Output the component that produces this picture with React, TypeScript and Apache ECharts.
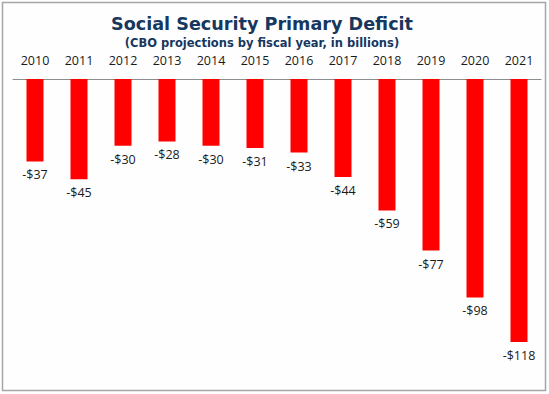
import React, { useEffect, useRef } from "react";
import * as echarts from "echarts";

const years = ["2010", "2011", "2012", "2013", "2014", "2015", "2016", "2017", "2018", "2019", "2020", "2021"];
const deficits = [-37, -45, -30, -28, -30, -31, -33, -44, -59, -77, -98, -118];

export default function App() {
  const ref = useRef<HTMLDivElement>(null);
  useEffect(() => {
    if (!ref.current) return;
    const chart = echarts.init(ref.current, undefined, { renderer: "svg" });
    chart.setOption({
      animation: false,
      backgroundColor: "#fefefe",
      graphic: [
        {
          type: "rect",
          shape: { x: 2.5, y: 2.5, width: 543, height: 388 },
          style: { fill: "none", stroke: "#a6a6a6", lineWidth: 1.5 },
        },
        {
          type: "text",
          x: 262,
          y: 24,
          style: {
            text: "Social Security Primary Deficit",
            align: "center",
            verticalAlign: "middle",
            font: "bold 17.6px 'DejaVu Sans'",
            fill: "#17375e",
          },
        },
        {
          type: "text",
          x: 262,
          y: 43,
          style: {
            text: "(CBO projections by fiscal year, in billions)",
            align: "center",
            verticalAlign: "middle",
            font: "bold 11.5px 'DejaVu Sans'",
            fill: "#17375e",
          },
        },
      ],
      grid: { left: 13, top: 79, width: 528, height: 312 },
      xAxis: {
        type: "category",
        position: "top",
        data: years,
        axisLine: { lineStyle: { color: "#8c8c8c", width: 1 } },
        axisTick: { show: false },
        axisLabel: { margin: 12, fontFamily: "Open Sans", fontSize: 12.5, color: "#1a1a1a" },
      },
      yAxis: {
        type: "value",
        min: -140,
        max: 0,
        show: false,
        splitLine: { show: false },
      },
      series: [
        {
          type: "bar",
          data: deficits,
          barWidth: 17,
          itemStyle: { color: "#ff0000" },
          label: {
            show: true,
            position: "bottom",
            distance: 7,
            formatter: (p: any) => "-$" + Math.abs(p.value),
            fontFamily: "Open Sans",
            fontSize: 12.5,
            color: "#1a1a1a",
          },
        },
      ],
    });
    return () => chart.dispose();
  }, []);
  return <div ref={ref} style={{ position: "fixed", left: 0, top: 0, width: 549, height: 394 }} />;
}
